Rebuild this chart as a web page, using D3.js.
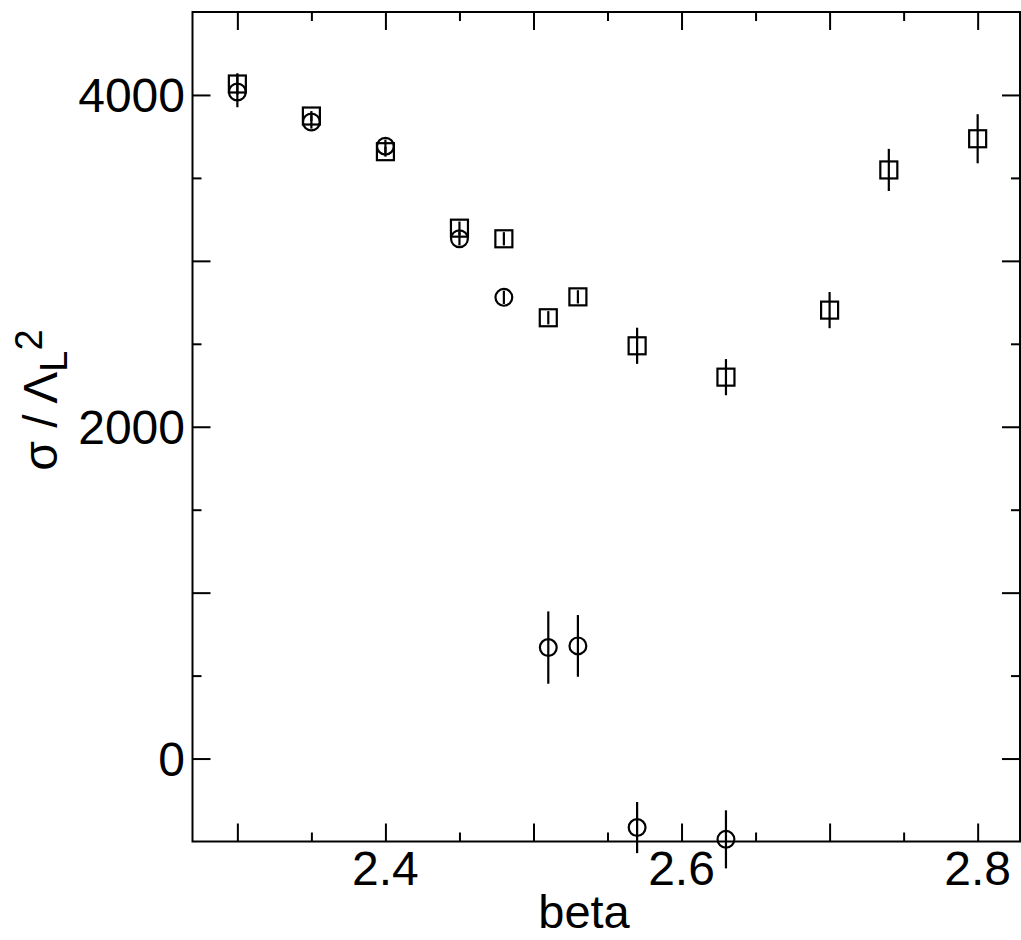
<!DOCTYPE html>
<html>
<head>
<meta charset="utf-8">
<script src="https://cdn.jsdelivr.net/npm/d3@7/dist/d3.min.js"></script>
<style>
  html, body { margin: 0; padding: 0; background: #fff; }
  svg { display: block; font-family: "Liberation Sans", Arial, Helvetica, sans-serif; }
</style>
</head>
<body>
<svg id="chart" width="1021" height="940"></svg>
<script>
// ---- data ----
const squareBeta  = [2.30, 2.35, 2.40, 2.45, 2.48, 2.51, 2.53, 2.57, 2.63, 2.70, 2.74, 2.80];
const squareValue = [4066, 3873, 3658, 3197, 3133, 2657, 2783, 2488, 2299, 2703, 3548, 3736];
const squareError = [65, 30, 30, 40, 40, 40, 40, 109, 109, 109, 127, 148];

const circleBeta  = [2.30, 2.35, 2.40, 2.45, 2.48, 2.51, 2.53, 2.57, 2.63];
const circleValue = [4018, 3837, 3691, 3133, 2780, 669, 679, -416, -487];
const circleError = [92, 40, 40, 40, 40, 218, 186, 154, 175];

const xMajorTicks = [2.3, 2.4, 2.5, 2.6, 2.7, 2.8];
const xMinorTicks = [2.35, 2.45, 2.55, 2.65, 2.75];
const xLabelTicks = [2.4, 2.6, 2.8];
const yMajorTicks = [0, 1000, 2000, 3000, 4000];
const yMinorTicks = [500, 1500, 2500, 3500];
const yLabelTicks = [0, 2000, 4000];

// ---- layout ----
const L = 192.5, R = 1020, T = 12, B = 841.5;
const svg = d3.select("#chart");

const x = d3.scaleLinear().domain([2.2697, 2.8286]).range([L, R]);
const y = d3.scaleLinear().domain([-500, 4500]).range([B, T]);

const majorLen = 18, minorLen = 9;
const fmtX = d3.format(".1f");

// ticks inward on all four sides using d3 axes
function addAxis(axisGen, tx, ty) {
  const g = svg.append("g").attr("transform", `translate(${tx},${ty})`).call(axisGen);
  g.select(".domain").remove();
  g.selectAll("text").remove();
  g.selectAll("line").attr("stroke", "#000").attr("stroke-width", 2);
  return g;
}
// bottom (inward = up)
addAxis(d3.axisTop(x).tickValues(xMajorTicks).tickSize(majorLen), 0, B);
addAxis(d3.axisTop(x).tickValues(xMinorTicks).tickSize(minorLen), 0, B);
// top (inward = down)
addAxis(d3.axisBottom(x).tickValues(xMajorTicks).tickSize(majorLen), 0, T);
addAxis(d3.axisBottom(x).tickValues(xMinorTicks).tickSize(minorLen), 0, T);
// left (inward = right)
addAxis(d3.axisRight(y).tickValues(yMajorTicks).tickSize(majorLen), L, 0);
addAxis(d3.axisRight(y).tickValues(yMinorTicks).tickSize(minorLen), L, 0);
// right (inward = left)
addAxis(d3.axisLeft(y).tickValues(yMajorTicks).tickSize(majorLen), R, 0);
addAxis(d3.axisLeft(y).tickValues(yMinorTicks).tickSize(minorLen), R, 0);

// frame
svg.append("rect")
  .attr("x", L).attr("y", T).attr("width", R - L).attr("height", B - T)
  .attr("fill", "none").attr("stroke", "#000").attr("stroke-width", 2);

// tick labels
svg.append("g").selectAll("text").data(xLabelTicks).join("text")
  .attr("x", d => x(d)).attr("y", 884.5)
  .attr("text-anchor", "middle").attr("font-size", 48).attr("fill", "#000")
  .text(d => fmtX(d));
svg.append("g").selectAll("text").data(yLabelTicks).join("text")
  .attr("x", 185).attr("y", d => y(d)).attr("dy", "0.36em")
  .attr("text-anchor", "end").attr("font-size", 48).attr("fill", "#000")
  .text(d => d);

// axis titles
svg.append("text").attr("x", 584).attr("y", 928)
  .attr("text-anchor", "middle").attr("font-size", 47).attr("fill", "#000")
  .text("beta");

const yt = svg.append("text")
  .attr("transform", "translate(57,400) rotate(-90)")
  .attr("text-anchor", "middle").attr("font-size", 48).attr("fill", "#000");
yt.append("tspan").text("σ / Λ");
yt.append("tspan").attr("font-size", 38).attr("dy", 10).text("L");
yt.append("tspan").attr("font-size", 38).attr("dy", -25).text("2");

// data
const squares = squareBeta.map((b, i) => ({b, v: squareValue[i], e: squareError[i]}));
const circles = circleBeta.map((b, i) => ({b, v: circleValue[i], e: circleError[i]}));

const plot = svg.append("g");
function errorBars(data) {
  plot.append("g").selectAll("line").data(data).join("line")
    .attr("x1", d => x(d.b)).attr("x2", d => x(d.b))
    .attr("y1", d => y(d.v - d.e)).attr("y2", d => y(d.v + d.e))
    .attr("stroke", "#000").attr("stroke-width", 2.2);
}
errorBars(squares);
errorBars(circles);

const sq = 17;
plot.append("g").selectAll("rect").data(squares).join("rect")
  .attr("x", d => x(d.b) - sq / 2).attr("y", d => y(d.v) - sq / 2)
  .attr("width", sq).attr("height", sq)
  .attr("fill", "none").attr("stroke", "#000").attr("stroke-width", 2.2);

plot.append("g").selectAll("circle").data(circles).join("circle")
  .attr("cx", d => x(d.b)).attr("cy", d => y(d.v)).attr("r", 8.4)
  .attr("fill", "none").attr("stroke", "#000").attr("stroke-width", 2.2);
</script>
</body>
</html>
